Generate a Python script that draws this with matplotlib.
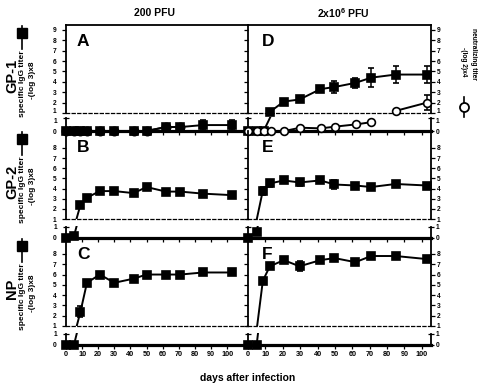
import numpy as np
import matplotlib.pyplot as plt
from matplotlib.lines import Line2D

plt.rcParams['font.family'] = ['Liberation Sans', 'DejaVu Sans']
plt.rcParams['mathtext.fontset'] = 'custom'
plt.rcParams['mathtext.bf'] = 'Liberation Sans:bold'
plt.rcParams['mathtext.rm'] = 'Liberation Sans'

nan = np.nan
days = np.array([0, 5, 9, 13, 21, 30, 42, 50, 62, 71, 85, 103])

# 200 PFU (left column)
gp1_igg_200 = [0, 0, 0, 0, 0, 0, 0, 0, 0.3, 0.3, 0.45, 0.45]
gp1_igg_200_err = [0, 0, 0, 0, 0, 0, 0, 0, 0, 0, 0.35, 0.35]
gp1_neut_200 = [0, 0, 0, 0, 0, 0, 0, 0, 0.3, 0.3, nan, nan]
gp2_igg_200 = [0, 0.15, 2.4, 3.1, 3.75, 3.75, 3.55, 4.15, 3.7, 3.7, 3.5, 3.35]
gp2_igg_200_err = [0, 0, 0, 0, 0, 0, 0, 0, 0, 0, 0, 0.3]
np_igg_200 = [0, 0, 2.4, 5.2, 6.0, 5.2, 5.6, 6.0, 6.0, 6.0, 6.2, 6.2]
np_igg_200_err = [0, 0, 0.5, 0, 0, 0, 0, 0, 0, 0, 0, 0]

# 2x10^6 PFU (right column)
gp1_igg_2e6 = [0, 0, 0, 1.1, 2.1, 2.3, 3.3, 3.5, 3.9, 4.4, 4.7, 4.7]
gp1_igg_2e6_err = [0, 0, 0, 0, 0, 0, 0.3, 0.6, 0.5, 0.9, 0.85, 0.85]
gp1_neut_2e6 = [0, 0, 0, 0, 0, 0.25, 0.2, 0.33, 0.5, 0.67, 1.2, 2.0]
gp1_neut_2e6_err = [0, 0, 0, 0, 0, 0.08, 0.08, 0.08, 0.08, 0.08, 0.1, 0.7]
gp2_igg_2e6 = [0, 0.55, 3.8, 4.5, 4.8, 4.6, 4.8, 4.4, 4.3, 4.15, 4.45, 4.3]
gp2_igg_2e6_err = [0, 0, 0.4, 0.35, 0.15, 0.3, 0.1, 0.4, 0.15, 0.15, 0.15, 0.15]
np_igg_2e6 = [0, 0, 5.4, 6.8, 7.4, 6.8, 7.4, 7.6, 7.2, 7.8, 7.8, 7.5]
np_igg_2e6_err = [0, 0, 0, 0, 0, 0.5, 0, 0, 0, 0, 0, 0]

row_names = ['GP-1', 'GP-2', 'NP']
letters = [['A', 'B', 'C'], ['D', 'E', 'F']]

W, H = 480, 385
fig = plt.figure(figsize=(4.8, 3.85), dpi=100)

# pixel geometry
cols = [(66, 248), (248, 431)]
xlims = [(0, 113), (0.5, 105.3)]
rows = [(25, 113, 116.5, 131), (131, 219, 225.5, 237.5), (238, 326, 332.5, 344.5)]
up_tops = [9.47, 9.67, 9.55]


def box(x0, x1, top, bottom):
    return [x0 / W, 1 - bottom / H, (x1 - x0) / W, (bottom - top) / H]


def make_axes(col, row):
    x0, x1 = cols[col]
    t, b, lt, lb = rows[row]
    ax_up = fig.add_axes(box(x0, x1, t, b))
    ax_low = fig.add_axes(box(x0, x1, lt, lb))
    for ax in (ax_up, ax_low):
        ax.set_xlim(*xlims[col])
        ax.patch.set_alpha(0)
        for s in ax.spines.values():
            s.set_linewidth(1.3)
        ax.tick_params(axis='y', length=3, width=0.9, labelsize=4.8, pad=4 if col == 0 else 1)
        if col == 1:
            ax.yaxis.set_ticks_position('both')
            ax.tick_params(axis='y', labelleft=False, labelright=True)
        else:
            ax.yaxis.set_ticks_position('left')
            ax.spines['right'].set_visible(False)
    # upper part, values from 1 up
    ax_up.set_ylim(1, up_tops[row])
    ax_up.set_yticks(range(1, 10) if row == 0 else range(1, 9))
    ax_up.set_xticks([])
    ax_up.spines['top'].set_visible(row == 0)
    ax_up.spines['bottom'].set_linestyle((0, (2.5, 2)))
    ax_up.spines['bottom'].set_linewidth(0.9)
    # lower part, 0..1 below the break
    ax_low.set_ylim(0, 1.1)
    ax_low.set_yticks([0, 1])
    ax_low.tick_params(axis='y', direction='inout', length=5)
    ax_low.spines['top'].set_visible(False)
    ax_low.spines['bottom'].set_linewidth(2.3)
    ax_low.spines['left'].set_bounds(0, 1)
    ax_low.spines['right'].set_bounds(0, 1)
    ax_low.set_xticks(range(0, 101, 10))
    ax_low.tick_params(axis='x', length=3, width=0.9, labelsize=5.2, pad=1.5,
                       labelbottom=(row == 2))
    for lab in ax_low.get_xticklabels() + ax_low.get_yticklabels() + ax_up.get_yticklabels():
        lab.set_fontweight('bold')
    if row == 0:
        # the two "1" labels sit only a few pixels apart in the top row
        ax_up.get_yticklabels()[0].set_verticalalignment('baseline')
        ax_low.get_yticklabels()[1].set_verticalalignment('top')
    ax_up.text(0.06 if col == 0 else 0.075, 1 - 16.5 / 88, letters[col][row],
               transform=ax_up.transAxes, fontsize=12.5, fontweight='bold',
               ha='left', va='center')
    return ax_up, ax_low


def draw(ax_up, ax_low, y, err, marker='s', face='black', ms=5.6, split=None):
    y = np.asarray(y, float)
    err = np.asarray(err, float)
    # connecting line, clipped by each part of the broken axis
    pieces = [slice(None)] if split is None else [slice(0, split), slice(split, None)]
    for ax in (ax_up, ax_low):
        for p in pieces:
            ax.plot(days[p], y[p], color='black', lw=1.4, zorder=3)
    for ax, keep in ((ax_up, y >= 1), (ax_low, y < 1)):
        if not keep.any():
            continue
        bars = ax.errorbar(days[keep], y[keep], yerr=err[keep], fmt=marker, mfc=face,
                           mec='black', mew=1.2, ms=ms, ecolor='black', elinewidth=1.1,
                           capsize=2.5, capthick=1.1, zorder=4)
        for art in bars.get_children():
            art.set_clip_on(False)


series = [
    [(gp1_igg_200, gp1_igg_200_err), (gp2_igg_200, gp2_igg_200_err), (np_igg_200, np_igg_200_err)],
    [(gp1_igg_2e6, gp1_igg_2e6_err), (gp2_igg_2e6, gp2_igg_2e6_err), (np_igg_2e6, np_igg_2e6_err)],
]

for col in range(2):
    for row in range(3):
        ax_up, ax_low = make_axes(col, row)
        y, err = series[col][row]
        draw(ax_up, ax_low, y, err)
        if row == 0 and col == 0:
            draw(ax_up, ax_low, gp1_neut_200, [0] * len(days), marker='o', ms=6)
        if row == 0 and col == 1:
            draw(ax_up, ax_low, gp1_neut_2e6, gp1_neut_2e6_err, marker='o', face='white',
                 ms=5.6, split=10)

# titles and labels
fig.text(155 / W, 1 - 13 / H, '200 PFU', ha='center', va='center', fontsize=7.5, fontweight='bold')
fig.text(343 / W, 1 - 13 / H, r'2x10$^{\mathbf{6}}$ PFU', ha='center', va='center',
         fontsize=7.5, fontweight='bold')
fig.text(248 / W, 1 - 378 / H, 'days after infection', ha='center', va='center',
         fontsize=7.5, fontweight='bold')

for row, name in enumerate(row_names):
    top = rows[row][0]
    fig.text(12 / W, 1 - (top + 51) / H, name, rotation=90, ha='center', va='center',
             fontsize=10.5, fontweight='bold')
    fig.text(23 / W, 1 - (top + 59) / H, 'specific IgG titer', rotation=90, ha='center',
             va='center', fontsize=6, fontweight='bold')
    fig.text(33 / W, 1 - (top + 55) / H, '-(log 3)x8', rotation=90, ha='center',
             va='center', fontsize=6, fontweight='bold')
    fig.add_artist(Line2D([21.5 / W, 21.5 / W], [1 - (top + 1) / H, 1 - (top + 24) / H],
                          color='black', lw=1.2))
    fig.add_artist(Line2D([21.5 / W], [1 - (top + 8) / H], marker='s', ms=6.5,
                          color='black'))

fig.text(474 / W, 1 - 54 / H, 'neutralizing titer', rotation=-90, ha='center', va='center',
         fontsize=4.8, fontweight='bold')
fig.text(464 / W, 1 - 62 / H, '-(log 2)x4', rotation=-90, ha='center', va='center',
         fontsize=4.8, fontweight='bold')
fig.add_artist(Line2D([464 / W, 464 / W], [1 - 97 / H, 1 - 117 / H], color='black', lw=1.2))
fig.add_artist(Line2D([464 / W], [1 - 107 / H], marker='o', ms=6.5, mfc='white',
                      mec='black', mew=1.3))

fig.savefig('out.png', dpi=100)
